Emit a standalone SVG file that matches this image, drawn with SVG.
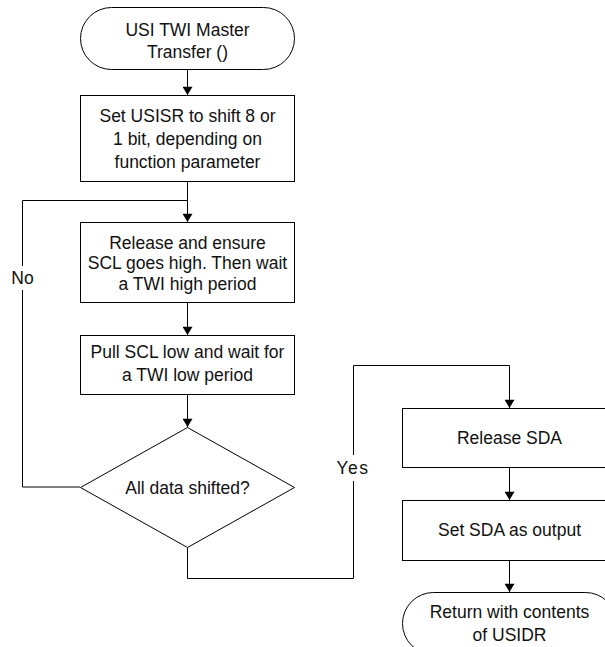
<svg xmlns="http://www.w3.org/2000/svg" width="605" height="647" viewBox="0 0 605 647">
<style>
.s{fill:#fff;stroke:#000;stroke-width:1}
.t{font-family:"Liberation Sans",Arial,sans-serif;font-size:17.5px;fill:#111;text-anchor:middle}
.c{fill:none;stroke:#000;stroke-width:1}
</style>
<defs>
<marker id="ah" viewBox="0 0 10 12" refX="10" refY="6" markerWidth="12" markerHeight="10" markerUnits="userSpaceOnUse" orient="auto">
<path d="M0,0 L10,6 L0,12 z" fill="#000"/>
</marker>
</defs>
<rect width="605" height="647" fill="#fff"/>
<g id="connectors">
<path class="c" d="M187.5,70 V95" marker-end="url(#ah)"/>
<path class="c" d="M187.5,182 V222" marker-end="url(#ah)"/>
<path class="c" d="M80,487 H22.5 V200.5 H187.5"/>
<path class="c" d="M187.5,303 V335" marker-end="url(#ah)"/>
<path class="c" d="M187.5,395 V427" marker-end="url(#ah)"/>
<path class="c" d="M187.5,548 V578.5 H353.5 V365.5 H509.5 V408" marker-end="url(#ah)"/>
<path class="c" d="M509.5,468 V500" marker-end="url(#ah)"/>
<path class="c" d="M509.5,561 V592" marker-end="url(#ah)"/>
<rect x="10" y="266" width="26" height="24" fill="#fff"/>
<text class="t" x="22.5" y="284">No</text>
<rect x="336" y="455" width="36" height="26" fill="#fff"/>
<text class="t" x="353" y="474" letter-spacing="1.5">Yes</text>
</g>
<g id="start">
<rect class="s" x="80.5" y="7.5" width="214" height="62" rx="31" ry="31"/>
<text class="t" x="187.5" y="36">USI TWI Master</text>
<text class="t" x="187.5" y="58">Transfer ()</text>
</g>
<g id="set-usisr">
<rect class="s" x="80.5" y="95.5" width="214" height="86"/>
<text class="t" x="187.5" y="122">Set USISR to shift 8 or</text>
<text class="t" x="187.5" y="145">1 bit, depending on</text>
<text class="t" x="187.5" y="168">function parameter</text>
</g>
<g id="release-scl">
<rect class="s" x="80.5" y="222.5" width="214" height="80"/>
<text class="t" x="187.5" y="249">Release and ensure</text>
<text class="t" x="187.5" y="269">SCL goes high. Then wait</text>
<text class="t" x="187.5" y="290">a TWI high period</text>
</g>
<g id="pull-scl">
<rect class="s" x="80.5" y="335.5" width="214" height="59"/>
<text class="t" x="187.5" y="358">Pull SCL low and wait for</text>
<text class="t" x="187.5" y="381">a TWI low period</text>
</g>
<g id="decision">
<polygon class="s" points="187.5,427.5 294.5,487.5 187.5,547.5 80.5,487.5"/>
<text class="t" x="187.5" y="494">All data shifted?</text>
</g>
<g id="release-sda">
<rect class="s" x="402.5" y="408.5" width="214" height="59"/>
<text class="t" x="509.5" y="444">Release SDA</text>
</g>
<g id="sda-output">
<rect class="s" x="402.5" y="500.5" width="214" height="60"/>
<text class="t" x="509.5" y="536">Set SDA as output</text>
</g>
<g id="end">
<rect class="s" x="402.5" y="592.5" width="214" height="62" rx="31" ry="31"/>
<text class="t" x="509.5" y="618">Return with contents</text>
<text class="t" x="509.5" y="641">of USIDR</text>
</g>
</svg>
